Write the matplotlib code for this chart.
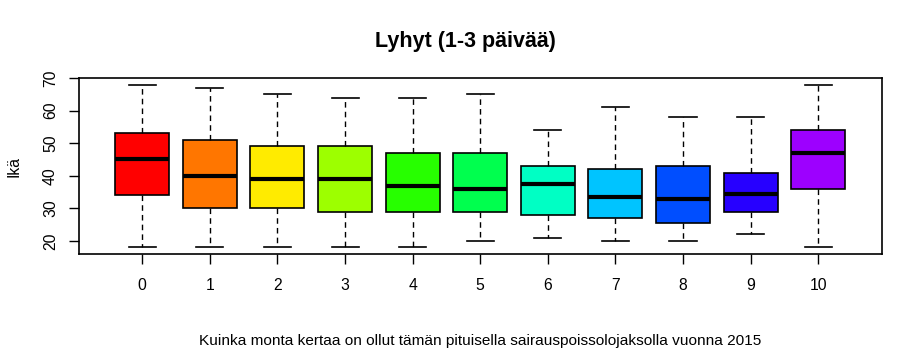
import matplotlib.pyplot as plt

plt.rcParams['font.family'] = ['Liberation Sans', 'DejaVu Sans']

# ryhmät (kertojen lukumäärä) ja laatikoiden tunnusluvut luettuna kuvasta
kerrat = ['0', '1', '2', '3', '4', '5', '6', '7', '8', '9', '10']
ala_viiksi = [18, 18, 18, 18, 18, 20, 21, 20, 20, 22, 18]
ala_kvartiili = [34, 30, 30, 29, 29, 29, 28, 27, 25.5, 29, 36]
mediaani = [45, 40, 39, 39, 37, 36, 37.5, 33.5, 33, 34.5, 47]
yla_kvartiili = [53, 51, 49, 49, 47, 47, 43, 42, 43, 41, 54]
yla_viiksi = [68, 67, 65, 64, 64, 65, 54, 61, 58, 58, 68]

varit = ['#FF0000', '#FF7600', '#FFEB00', '#9DFF00', '#27FF00', '#00FF4E',
         '#00FFC4', '#00C4FF', '#004EFF', '#2700FF', '#9D00FF']

stats = []
for i in range(len(kerrat)):
    stats.append({'label': kerrat[i], 'whislo': ala_viiksi[i], 'q1': ala_kvartiili[i],
                  'med': mediaani[i], 'q3': yla_kvartiili[i], 'whishi': yla_viiksi[i],
                  'fliers': []})

fig = plt.figure(figsize=(9.22, 3.52), dpi=100)
ax = fig.add_axes([0.0854, 0.2784, 0.8709, 0.5000])

pos = list(range(len(kerrat)))
bp = ax.bxp(stats, positions=pos, widths=0.8, patch_artist=True, showfliers=False,
            capwidths=0.4,
            boxprops=dict(edgecolor='black', linewidth=1.2),
            medianprops=dict(color='black', linewidth=3),
            whiskerprops=dict(color='black', linewidth=1, linestyle=(0, (4, 3))),
            capprops=dict(color='black', linewidth=1.2))
for patch, c in zip(bp['boxes'], varit):
    patch.set_facecolor(c)

ax.set_xlim(-0.94, 10.94)
ax.set_ylim(16, 70)
ax.set_yticks([20, 30, 40, 50, 60, 70])
ax.set_xticks(pos)
ax.set_xticklabels(kerrat)
ax.tick_params(axis='y', length=7, width=1, pad=8, labelsize=11.3, labelrotation=90)
ax.tick_params(axis='x', length=7, width=1, pad=10, labelsize=11.3)
for lbl in ax.get_yticklabels():
    lbl.set_va('center')
for s in ax.spines.values():
    s.set_linewidth(1.2)

fig.text(465 / 922, 1 - 42 / 352, 'Lyhyt (1-3 päivää)', ha='center', va='center',
         fontsize=15.5, fontweight='bold')
fig.text(0.5206, 1 - 341 / 352, 'Kuinka monta kertaa on ollut tämän pituisella sairauspoissolojaksolla vuonna 2015',
         ha='center', va='center', fontsize=11.1)
fig.text(14 / 922, 1 - 167 / 352, 'Ikä', ha='center', va='center', rotation=90, fontsize=11.3)

fig.savefig('out.png', dpi=100)
